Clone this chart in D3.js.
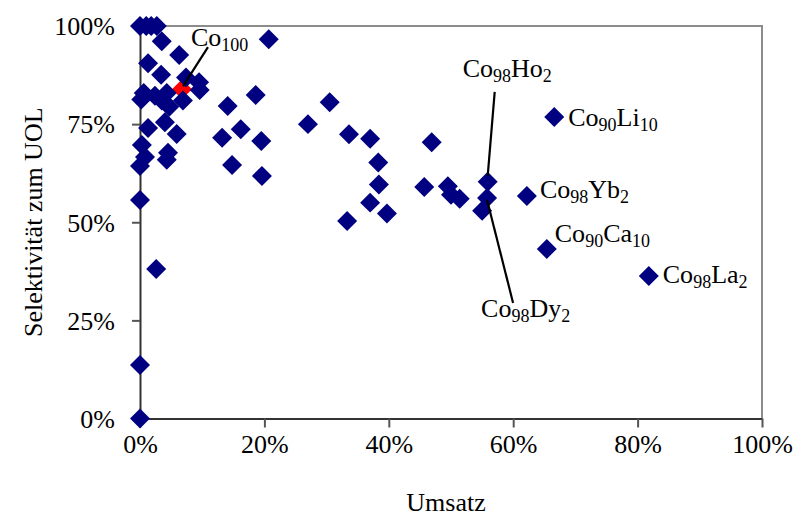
<!DOCTYPE html>
<html>
<head>
<meta charset="utf-8">
<script src="https://cdn.jsdelivr.net/npm/d3@7"></script>
<style>
  body { margin: 0; background: #fff; }
  svg text { font-family: "Liberation Serif", "Times New Roman", serif; fill: #000; }
</style>
</head>
<body>
<div id="root"></div>
<script>
// Umsatz (%) and Selektivität (%) of the doped catalysts
const umsatz = [0, 1.0, 1.8, 2.7, 3.5, 6.3, 1.3, 3.4, 7.4, 9.5, 9.6, 0.6, 0.2, 2.4, 4.3, 3.5, 6.9, 4.7,
  1.3, 4.0, 5.9, 0.3, 4.5, 0.8, 0, 4.3, 0, 2.6, 0, 0,
  20.7, 18.6, 14.1, 16.2, 13.2, 19.5, 14.8, 19.6,
  30.5, 27.0, 33.6, 37.0, 38.3, 38.4, 37.0, 39.7, 33.3,
  46.9, 45.7, 49.5, 50.0, 51.4, 55.9, 55.8, 55.0, 62.2, 66.6, 65.4, 81.8];
const selektivitaet = [100, 100, 100, 100, 96.1, 92.6, 90.5, 87.6, 86.9, 85.7, 83.7, 82.9, 81.3, 82.2, 82.9, 81.0, 81.0, 79.4,
  74.0, 75.5, 72.5, 69.7, 67.7, 66.6, 64.3, 65.9, 55.7, 38.1, 13.6, 0,
  96.6, 82.4, 79.6, 73.7, 71.5, 70.7, 64.6, 61.8,
  80.6, 75.0, 72.4, 71.3, 65.2, 59.6, 55.0, 52.2, 50.3,
  70.4, 59.0, 59.2, 57.0, 56.0, 60.3, 56.2, 52.9, 56.7, 76.8, 43.2, 36.3];

// undoped reference catalyst
const refUmsatz = [6.75];
const refSelektivitaet = [83.9];

const xTicks = [0, 20, 40, 60, 80, 100];
const yTicks = [0, 25, 50, 75, 100];

// point labels: index into data (-1 = reference), text parts [text, isSubscript]
const labelNames = [
  { idx: -1, parts: [["Co", false], ["100", true]] },
  { idx: 52, parts: [["Co", false], ["98", true], ["Ho", false], ["2", true]] },
  { idx: 56, parts: [["Co", false], ["90", true], ["Li", false], ["10", true]] },
  { idx: 55, parts: [["Co", false], ["98", true], ["Yb", false], ["2", true]] },
  { idx: 57, parts: [["Co", false], ["90", true], ["Ca", false], ["10", true]] },
  { idx: 58, parts: [["Co", false], ["98", true], ["La", false], ["2", true]] },
  { idx: 53, parts: [["Co", false], ["98", true], ["Dy", false], ["2", true]] }
];
// label placement relative to its point (px): text origin and leader line end
const labelLayout = [
  { dx: 9, dy: -43, line: [26, -42] },
  { dx: -25, dy: -105, line: [7, -90] },
  { dx: 14, dy: 9 },
  { dx: 13, dy: 2 },
  { dx: 8, dy: -7 },
  { dx: 14, dy: 7 },
  { dx: -6, dy: 119, line: [26, 105] }
];

const width = 796, height = 518;
const margin = { left: 140, top: 26, right: 34, bottom: 99.5 };
const w = width - margin.left - margin.right;
const h = height - margin.top - margin.bottom;

const svg = d3.select("#root").append("svg")
  .attr("width", width).attr("height", height)
  .attr("viewBox", [0, 0, width, height]);

const g = svg.append("g").attr("transform", `translate(${margin.left},${margin.top})`);

const x = d3.scaleLinear().domain([0, 100]).range([0, w]);
const y = d3.scaleLinear().domain([0, 100]).range([h, 0]);

// plot area border (top, right)
g.append("path")
  .attr("d", `M0,0H${w}V${h}`)
  .attr("fill", "none").attr("stroke", "#8c8c8c").attr("stroke-width", 2);

// x axis
const xAxis = g.append("g").attr("transform", `translate(0,${h})`)
  .call(d3.axisBottom(x).tickValues(xTicks).tickFormat(d => d + "%").tickSize(9).tickSizeOuter(0).tickPadding(5));
// y axis
const yAxis = g.append("g")
  .call(d3.axisLeft(y).tickValues(yTicks).tickFormat(d => d + "%").tickSize(8).tickSizeOuter(0).tickPadding(17));

[xAxis, yAxis].forEach(ax => {
  ax.attr("font-family", null);
  ax.select(".domain").attr("stroke", "#333").attr("stroke-width", 2);
  ax.selectAll(".tick line").attr("stroke", "#555").attr("stroke-width", 2);
  ax.selectAll(".tick text").attr("font-size", 26);
});
xAxis.selectAll(".tick text").attr("dy", "0.78em");
yAxis.selectAll(".tick text").attr("dy", "0.34em");

// axis titles
svg.append("text")
  .attr("x", margin.left + w / 2 - 5).attr("y", 511)
  .attr("text-anchor", "middle").attr("font-size", 26)
  .text("Umsatz");
svg.append("text")
  .attr("transform", `translate(42,${margin.top + h / 2}) rotate(-90)`)
  .attr("text-anchor", "middle").attr("font-size", 26)
  .text("Selektivität zum UOL");

const diamond = d3.symbol().type(d3.symbolSquare).size(200);

// reference series (red), drawn first
g.append("g").selectAll("path")
  .data(refUmsatz.map((u, i) => [u, refSelektivitaet[i]]))
  .join("path")
  .attr("d", diamond)
  .attr("transform", d => `translate(${x(d[0])},${y(d[1])}) rotate(45)`)
  .attr("fill", "#ff0000");

// doped catalysts (navy)
const pts = umsatz.map((u, i) => [u, selektivitaet[i]]);
g.append("g").selectAll("path")
  .data(pts)
  .join("path")
  .attr("d", diamond)
  .attr("transform", d => `translate(${x(d[0])},${y(d[1])}) rotate(45)`)
  .attr("fill", "#000080");

// labels with leader lines
labelNames.forEach((lab, k) => {
  const p = lab.idx < 0 ? [refUmsatz[0], refSelektivitaet[0]] : pts[lab.idx];
  const px = x(p[0]), py = y(p[1]);
  const lay = labelLayout[k];
  if (lay.line) {
    g.append("line")
      .attr("x1", px + (lab.idx < 0 ? 1 : 0)).attr("y1", py + (lab.idx < 0 ? -3 : (lay.line[1] < 0 ? -6 : 2)))
      .attr("x2", px + lay.line[0]).attr("y2", py + lay.line[1])
      .attr("stroke", "#000").attr("stroke-width", 2.2);
  }
  const t = g.append("text")
    .attr("x", px + lay.dx).attr("y", py + lay.dy)
    .attr("font-size", 26);
  let shifted = false;
  lab.parts.forEach(([s, sub]) => {
    const ts = t.append("tspan").text(s);
    if (sub && !shifted) { ts.attr("font-size", 18).attr("dy", 5); shifted = true; }
    else if (!sub && shifted) { ts.attr("dy", -5); shifted = false; }
    else if (sub) ts.attr("font-size", 18);
  });
});
</script>
</body>
</html>
